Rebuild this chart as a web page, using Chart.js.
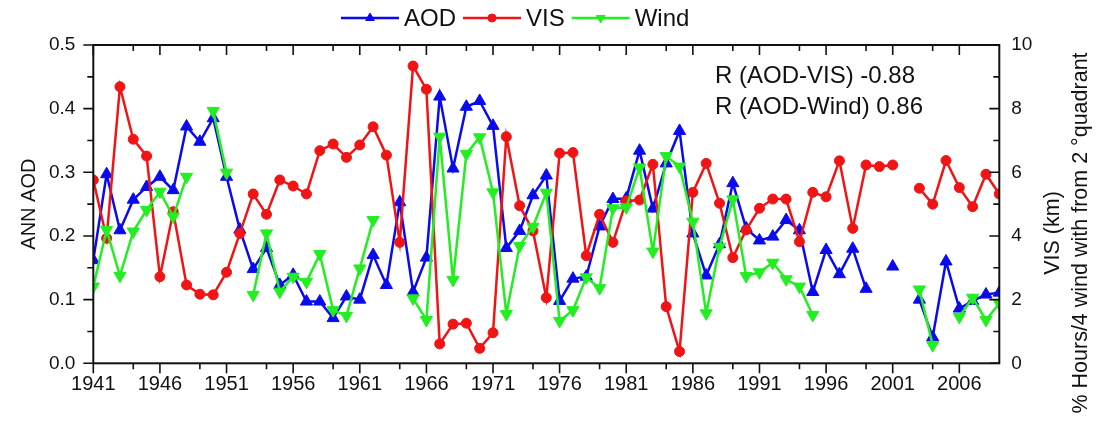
<!DOCTYPE html>
<html lang="en">
<head>
<meta charset="UTF-8" />
<title>ANN AOD, VIS and Wind</title>
<script src="https://cdn.jsdelivr.net/npm/chart.js"></script>
<style>
  html, body { margin: 0; padding: 0; background: #fff; }
  #wrap { width: 1099px; height: 426px; }
</style>
</head>
<body>
<div id="wrap"><canvas id="chart" width="1099" height="426"></canvas></div>
<script>
// years 1941..2009
const years = Array.from({ length: 69 }, (_, i) => 1941 + i);

// annual AOD (left axis)
const aod = [
  0.162, 0.297, 0.209, 0.257, 0.277, 0.293, 0.272, 0.372, 0.348, 0.385,
  0.293, 0.210, 0.148, 0.181, 0.123, 0.139, 0.097, 0.097, 0.071, 0.105,
  0.100, 0.170, 0.123, 0.253, 0.112, 0.166, 0.419, 0.306, 0.403, 0.412,
  0.373, 0.181, 0.208, 0.264, 0.295, 0.098, 0.133, 0.136, 0.215, 0.258,
  0.259, 0.334, 0.243, 0.314, 0.365, 0.204, 0.138, 0.187, 0.283, 0.212,
  0.193, 0.199, 0.225, 0.209, 0.112, 0.178, 0.140, 0.180, 0.117, null,
  0.152, null, 0.100, 0.041, 0.160, 0.086, 0.098, 0.108, 0.111
];

// visibility in km (right axis)
const vis = [
  5.76, 3.93, 8.69, 7.04, 6.51, 2.72, 4.76, 2.46, 2.17, 2.15,
  2.86, 4.08, 5.32, 4.68, 5.76, 5.57, 5.32, 6.68, 6.89, 6.47,
  6.86, 7.43, 6.54, 3.80, 9.34, 8.61, 0.61, 1.23, 1.26, 0.47,
  0.96, 7.12, 4.95, 4.16, 2.06, 6.60, 6.62, 3.38, 4.68, 3.80,
  5.10, 5.13, 6.25, 1.78, 0.37, 5.37, 6.28, 5.03, 3.32, 4.19,
  4.87, 5.16, 5.16, 3.82, 5.37, 5.23, 6.36, 4.24, 6.23, 6.18,
  6.23, null, 5.50, 5.00, 6.37, 5.52, 4.92, 5.94, 5.32
];

// % hours/4 with wind from 2nd quadrant (right axis)
const wind = [
  2.41, 4.19, 2.75, 4.14, 4.82, 5.39, 4.61, 5.86, null, 7.93,
  5.99, null, 2.15, 4.08, 2.25, 2.72, 2.56, 3.43, 1.67, 1.49,
  2.98, 4.50, null, null, 2.04, 1.36, 7.12, 2.62, 6.58, 7.10,
  5.37, 1.55, 3.69, 4.29, 5.36, 1.33, 1.67, 2.70, 2.36, 4.87,
  4.90, 6.15, 3.51, 6.51, 6.18, 4.45, 1.57, 3.66, 5.15, 2.74,
  2.86, 3.16, 2.64, 2.41, 1.52, null, null, null, null, null,
  null, null, 2.32, 0.57, null, 1.46, 2.06, 1.36, 1.88
];

const xLabels = [1941, 1946, 1951, 1956, 1961, 1966, 1971, 1976, 1981, 1986, 1991, 1996, 2001, 2006];
const xMinor = [1944, 1949, 1954, 1959, 1964, 1969, 1974, 1979, 1984, 1989, 1994, 1999, 2004];
const aodTicks = [0, 0.1, 0.2, 0.3, 0.4, 0.5];
const aodMinor = [0.05, 0.15, 0.25, 0.35, 0.45];
const visTicks = [0, 2, 4, 6, 8, 10];
const visMinor = [1, 3, 5, 7, 9];

const BLUE = '#0a0af0', RED = '#f01414', GREEN = '#22ee22';
const FONT = "'Liberation Sans', Arial, sans-serif";
const NARROW = "'Liberation Sans Narrow', 'Arial Narrow', 'Liberation Sans', sans-serif";

Chart.defaults.font.family = FONT;
Chart.defaults.color = '#111';

const pts = arr => years.map((yr, i) => ({ x: yr, y: arr[i] }));

// frame, ticks, legend, right title and R values
const extras = {
  id: 'extras',
  afterDatasetsDraw(chart) {
    const { ctx, chartArea: a, scales } = chart;
    const sx = scales.x, sy = scales.y, sy1 = scales.y1;
    ctx.save();
    ctx.strokeStyle = '#111';
    ctx.lineWidth = 2;
    ctx.strokeRect(a.left, a.top, a.right - a.left, a.bottom - a.top);
    ctx.lineWidth = 1.6;
    ctx.beginPath();
    const xt = (v, len) => {
      const p = sx.getPixelForValue(v);
      ctx.moveTo(p, a.bottom); ctx.lineTo(p, a.bottom + len);
      ctx.moveTo(p, a.top); ctx.lineTo(p, a.top + len);
    };
    xLabels.forEach(v => xt(v, 10));
    xMinor.forEach(v => xt(v, 6));
    aodTicks.forEach(v => { const p = sy.getPixelForValue(v); ctx.moveTo(a.left, p); ctx.lineTo(a.left - 10, p); });
    aodMinor.forEach(v => { const p = sy.getPixelForValue(v); ctx.moveTo(a.left, p); ctx.lineTo(a.left - 6, p); });
    visTicks.forEach(v => { const p = sy1.getPixelForValue(v); ctx.moveTo(a.right, p); ctx.lineTo(a.right - 10, p); });
    visMinor.forEach(v => { const p = sy1.getPixelForValue(v); ctx.moveTo(a.right, p); ctx.lineTo(a.right - 6, p); });
    ctx.stroke();
    ctx.restore();
  },
  afterDraw(chart) {
    const { ctx } = chart;
    ctx.save();
    // legend
    const items = [
      { text: 'AOD', color: BLUE, style: 'triangle', rot: 0 },
      { text: 'VIS', color: RED, style: 'circle', rot: 0 },
      { text: 'Wind', color: GREEN, style: 'triangle', rot: 180 }
    ];
    ctx.font = '24px ' + FONT;
    ctx.textBaseline = 'middle';
    let lx = 341;
    const ly = 18;
    items.forEach(it => {
      ctx.strokeStyle = it.color;
      ctx.fillStyle = it.color;
      ctx.lineWidth = 2.5;
      ctx.beginPath(); ctx.moveTo(lx, ly); ctx.lineTo(lx + 58, ly); ctx.stroke();
      ctx.lineWidth = 1;
      Chart.helpers.drawPoint(ctx, { pointStyle: it.style, radius: it.style === 'circle' ? 4 : 5, rotation: it.rot, borderWidth: 1 }, lx + 29, ly);
      ctx.fillStyle = '#111';
      ctx.fillText(it.text, lx + 63, ly + 1);
      lx += 63 + ctx.measureText(it.text).width + 7;
    });
    // R values
    ctx.font = '24px ' + FONT;
    ctx.textAlign = 'left';
    ctx.fillText('R (AOD-VIS) -0.88', 715, 76);
    ctx.fillText('R (AOD-Wind) 0.86', 715, 107);
    // right axis titles
    ctx.font = '21.5px ' + FONT;
    ctx.textAlign = 'center';
    ctx.translate(1053, 233);
    ctx.rotate(-Math.PI / 2);
    ctx.fillText('VIS (km)', 0, 0);
    ctx.fillText('% Hours/4 wind with from 2 \u00B0quadrant', 0, 28);
    ctx.restore();
  }
};

const ds = (label, arr, color, style, rot, axis, order) => ({
  label, data: pts(arr), yAxisID: axis, order,
  borderColor: color, backgroundColor: color,
  pointBackgroundColor: color, pointBorderColor: color,
  borderWidth: 2.5, pointStyle: style, pointRotation: rot,
  pointRadius: style === 'circle' ? 5 : 7, pointBorderWidth: 1,
  tension: 0, spanGaps: false
});

new Chart(document.getElementById('chart'), {
  type: 'line',
  data: {
    datasets: [
      ds('AOD', aod, BLUE, 'triangle', 0, 'y', 3),
      ds('VIS', vis, RED, 'circle', 0, 'y1', 2),
      ds('Wind', wind, GREEN, 'triangle', 180, 'y1', 1)
    ]
  },
  options: {
    responsive: false,
    animation: false,
    devicePixelRatio: 1,
    layout: { padding: { top: 45, left: 0, right: 0, bottom: 0 } },
    plugins: { legend: { display: false }, tooltip: { enabled: false } },
    scales: {
      x: {
        type: 'linear', min: 1941, max: 2009,
        grid: { display: false, drawTicks: false },
        border: { display: false },
        afterBuildTicks: s => { s.ticks = xLabels.map(v => ({ value: v })); },
        afterFit: s => { s.height = 62.7; },
        ticks: { padding: 9, maxRotation: 0, autoSkip: false, font: { size: 20, family: NARROW }, color: '#111', callback: v => String(v) }
      },
      y: {
        position: 'left', min: 0, max: 0.5,
        grid: { display: false, drawTicks: false },
        border: { display: false },
        afterBuildTicks: s => { s.ticks = aodTicks.map(v => ({ value: v })); },
        afterFit: s => { s.width = 93.3; },
        ticks: { padding: 18, font: { size: 19 }, color: '#111', callback: v => v.toFixed(1) },
        title: { display: true, text: 'ANN AOD', font: { size: 20 }, color: '#111', padding: { top: 17, bottom: 0 } }
      },
      y1: {
        position: 'right', min: 0, max: 10,
        grid: { display: false, drawTicks: false },
        border: { display: false },
        afterBuildTicks: s => { s.ticks = visTicks.map(v => ({ value: v })); },
        afterFit: s => { s.width = 99.7; },
        ticks: { padding: 12, font: { size: 19 }, color: '#111', callback: v => String(v) }
      }
    }
  },
  plugins: [extras]
});
</script>
</body>
</html>
